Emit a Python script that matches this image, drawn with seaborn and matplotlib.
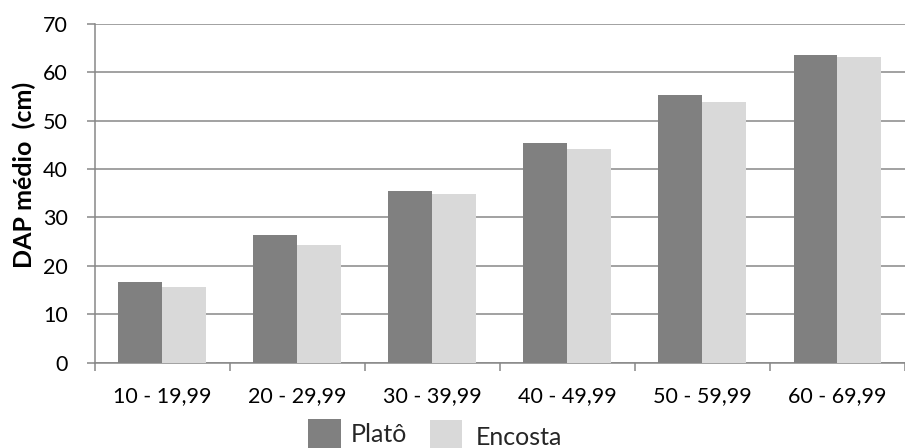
import numpy as np
import pandas as pd
import matplotlib
matplotlib.use("Agg")
import matplotlib.pyplot as plt
from matplotlib.patches import Rectangle
import seaborn as sns

# Mean DBH by diameter class for two terrain positions
classes = ["10 - 19,99", "20 - 29,99", "30 - 39,99", "40 - 49,99", "50 - 59,99", "60 - 69,99"]
plato = [16.6, 26.3, 35.4, 45.3, 55.3, 63.5]
encosta = [15.6, 24.4, 34.9, 44.1, 53.9, 63.2]
series_names = ["Platô", "Encosta"]
colors = ["#808080", "#d9d9d9"]
y_ticks = [0, 10, 20, 30, 40, 50, 60, 70]

df = pd.DataFrame({
    "classe": classes * 2,
    "dap": plato + encosta,
    "local": [series_names[0]] * len(classes) + [series_names[1]] * len(classes),
})

sns.set_theme(style="white")
plt.rcParams["font.family"] = ["Lato", "DejaVu Sans"]

W, H = 905, 448
fig = plt.figure(figsize=(W / 100, H / 100), dpi=100)
ax = fig.add_axes([94.5 / W, (H - 362.5) / H, (W - 94.5) / W, 338.5 / H])

sns.barplot(data=df, x="classe", y="dap", hue="local", order=classes,
            hue_order=series_names, palette=colors, width=0.65,
            saturation=1, linewidth=0, ax=ax, legend=False, zorder=3)

grid_c = "#878787"
ax.set_ylim(0, 70)
ax.set_xlim(-0.5, 5.5 - 6 / 136)
ax.set_yticks(y_ticks)
ax.yaxis.grid(True, color=grid_c, linewidth=1.1, zorder=0)
ax.set_axisbelow(True)
for s in ["top", "right"]:
    ax.spines[s].set_visible(False)
for s in ["left", "bottom"]:
    ax.spines[s].set_color(grid_c)
    ax.spines[s].set_linewidth(1.1)

# category boundaries carry the tick marks, labels sit between them
ax.set_xticks(np.arange(-0.5, 6, 1), minor=True)
ax.tick_params(axis="x", which="minor", length=6, width=1.1, color=grid_c, direction="out", bottom=True)
ax.tick_params(axis="x", which="major", length=0, pad=17, labelsize=15.5, labelcolor="black")
ax.tick_params(axis="y", length=6, width=1.1, color=grid_c, direction="out", left=True,
               pad=13, labelsize=15.5, labelcolor="black")

ax.set_xlabel("")
ax.set_ylabel("DAP médio  (cm)", fontsize=18, fontweight="bold", color="black",
              ha="center", va="center")
ax.yaxis.set_label_coords((24 - 94.5) / 810.5, (362.5 - 174.5) / 338.5)

# legend drawn below the axis
def fx(px):
    return px / W

def fy(py):
    return (H - py) / H

fig.patches.append(Rectangle((fx(308), fy(452)), 33 / W, 33 / H, transform=fig.transFigure,
                             facecolor=colors[0], edgecolor="none"))
fig.patches.append(Rectangle((fx(430), fy(453)), 32 / W, 33 / H, transform=fig.transFigure,
                             facecolor=colors[1], edgecolor="none"))
fig.text(fx(351), fy(441.7), series_names[0], fontsize=18, va="baseline", ha="left")
fig.text(fx(476), fy(444.5), series_names[1], fontsize=18, va="baseline", ha="left")

fig.savefig("out.png", dpi=100)
